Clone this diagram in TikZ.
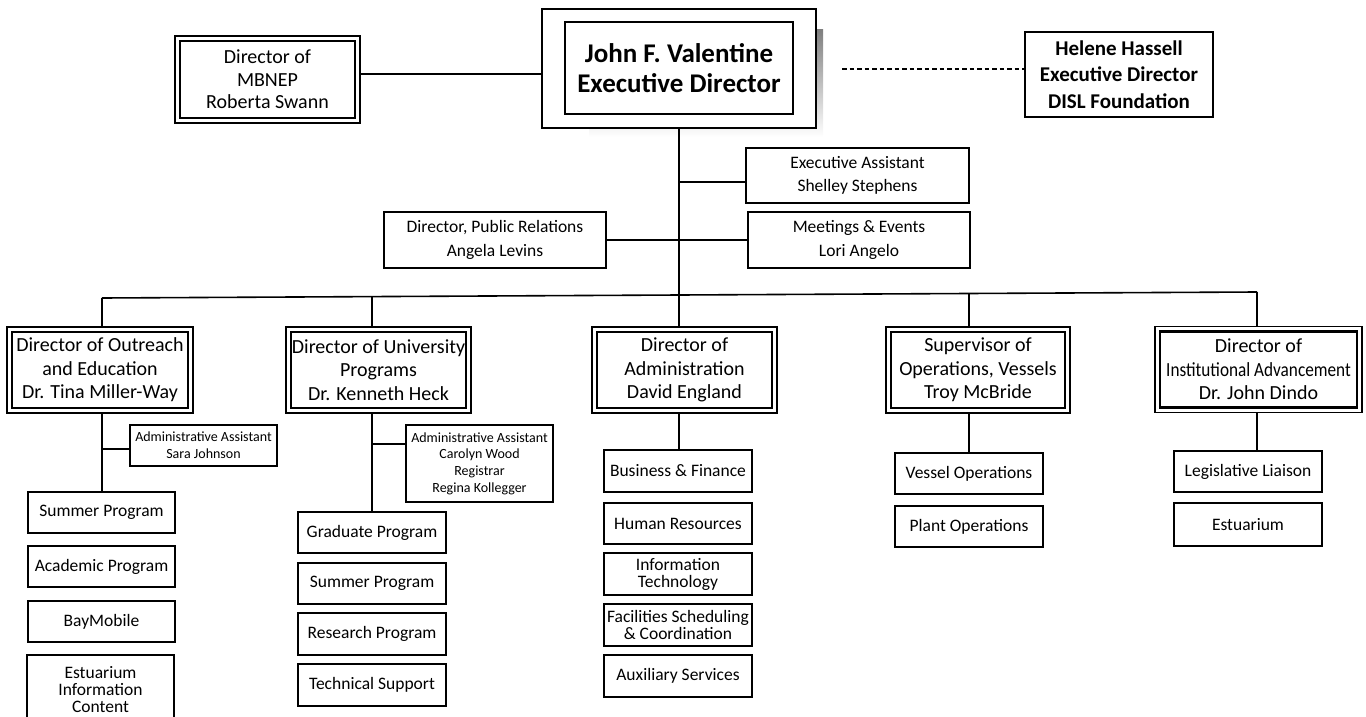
\documentclass[tikz,border=0pt]{standalone}
\usepackage{fontspec}
\setmainfont{Carlito}
\usepackage{graphicx}
\definecolor{shade}{RGB}{166,166,170}
\tikzset{
  conn/.style={line width=1.6pt},
  dotconn/.style={line width=2.4pt, dash pattern=on 4.5pt off 3pt},
  box/.style={draw, line width=1.5pt, fill=white, align=center, inner sep=0pt,
    minimum width=148pt, minimum height=41pt, font=\fontsize{17.5}{17}\selectfont},
  midbox/.style={draw, line width=1.5pt, fill=white, align=center, inner sep=0pt,
    minimum width=222pt, minimum height=56pt, font=\fontsize{17.5}{23.5}\selectfont},
  smallbox/.style={draw, line width=1.5pt, fill=white, align=center, inner sep=0pt,
    minimum width=147pt, font=\fontsize{14}{16.7}\selectfont},
  dirbox/.style={draw, line width=1.3pt, fill=white, align=center, inner sep=0pt,
    outer sep=0pt, minimum height=86pt, font=\fontsize{20}{23.5}\selectfont},
  innerline/.style={line width=2.3pt},
}
\begin{document}
\begin{tikzpicture}[x=1pt,y=-1pt]
\useasboundingbox (0,0) rectangle (1366,717);
\clip (0,0) rectangle (1366,717);

% top level
\fill[shade] (589,30) rectangle (823,137);
\node[draw, line width=1.3pt, fill=white, outer sep=0pt, minimum width=274pt, minimum height=119pt,
  align=center, font=\fontsize{27}{30}\selectfont\bfseries] (main) at (679,68.5)
  {John F. Valentine\\Executive Director};
\draw[line width=1.3pt] ([xshift=23pt,yshift=-13pt]main.north west) rectangle ([xshift=-23pt,yshift=14pt]main.south east);

\node[dirbox, minimum width=185pt, minimum height=87pt, font=\fontsize{20}{22.5}\selectfont] (mbnep) at (267.5,79.5)
  {Director of\\MBNEP\\Roberta Swann};

\node[draw, line width=1.5pt, fill=white, align=center, minimum width=188pt, minimum height=85pt,
  font=\fontsize{21}{26.5}\selectfont\bfseries] (helene) at (1119,74.5)
  {Helene Hassell\\Executive Director\\DISL Foundation};

\coordinate (y74) at (0,74);
\draw[conn] (mbnep.east |- y74) -- (main.west |- y74);
\coordinate (dots) at (842,69);
\draw[dotconn] (dots) -- (helene.west |- dots);

% staff
\node[midbox, minimum width=223pt, minimum height=55pt] (ea) at (857.5,175.5) {Executive Assistant\\Shelley Stephens};
\node[midbox] (me) at (859,240) {Meetings \& Events\\Lori Angelo};
\node[midbox] (pr) at (495,240) {Director, Public Relations\\Angela Levins};

% bus
\coordinate (b1) at (102,298);
\coordinate (b2) at (372,296.6);
\coordinate (b3) at (679,295);
\coordinate (b4) at (969,293.5);
\coordinate (b5) at (1257,292);
\draw[conn] (main.south) -- (b3);
\draw[conn] (b1) -- (b5);
\draw[conn] ([yshift=-6.5pt]ea.west -| b3) -- ([yshift=-6.5pt]ea.west);
\draw[conn] (pr.east) -- (me.west);

% directors
\node[dirbox, minimum width=186pt] (out) at (100,370) {Director of Outreach\\and Education\\Dr. Tina Miller-Way};
\node[dirbox, minimum width=185pt] (uni) at (378.5,370) {Director of University\\Programs\\Dr. Kenneth Heck};
\node[dirbox, minimum width=185pt] (adm) at (684.5,370) {Director of\\Administration\\David England};
\node[dirbox, minimum width=184pt] (ops) at (978,370) {Supervisor of\\Operations, Vessels\\Troy McBride};
\node[dirbox, minimum width=207pt] (ia) at (1258.5,369.5) {Director of\\\scalebox{0.86}[1]{Institutional Advancement}\\Dr. John Dindo};
\foreach \n in {out,uni,adm,ops,ia,mbnep}
  \draw[innerline] ([xshift=5pt,yshift=-5pt]\n.north west) rectangle ([xshift=-5pt,yshift=5pt]\n.south east);

\draw[conn] (b1) -- (b1 |- out.north);
\draw[conn] (b2) -- (b2 |- uni.north);
\draw[conn] (b3) -- (b3 |- adm.north);
\draw[conn] (b4) -- (b4 |- ops.north);
\draw[conn] (b5) -- (b5 |- ia.north);

% outreach column
\node[smallbox, minimum height=41pt] (aa1) at (203.5,445.5) {Administrative Assistant\\Sara Johnson};
\node[box, minimum width=147pt] (o1) at (101.5,512.5) {Summer Program};
\node[box, minimum width=147pt] (o2) at (101.5,566.5) {Academic Program};
\node[box, minimum width=147pt] (o3) at (101.5,621.5) {BayMobile};
\node[box, minimum width=147pt, minimum height=69pt] (o4) at (100.5,689.5) {Estuarium\\Information\\Content};
\draw[conn] (b1 |- out.south) -- (b1 |- o1.north);
\draw[conn] ([yshift=-3.5pt]aa1.west -| b1) -- ([yshift=-3.5pt]aa1.west);

% university column
\node[smallbox, minimum height=77pt] (aa2) at (479.5,463.5) {Administrative Assistant\\Carolyn Wood\\Registrar\\Regina Kollegger};
\node[box] (u1) at (372,532.5) {Graduate Program};
\node[box] (u2) at (372,583.5) {Summer Program};
\node[box, minimum height=42pt] (u3) at (372,634) {Research Program};
\node[box, minimum height=42pt] (u4) at (372,685) {Technical Support};
\draw[conn] (b2 |- uni.south) -- (b2 |- u1.north);
\draw[conn] ([yshift=19.5pt]aa2.west -| b2) -- ([yshift=19.5pt]aa2.west);

% administration column
\node[box, minimum height=42pt] (a1) at (678,471) {Business \& Finance};
\node[box] (a2) at (678,523.5) {Human Resources};
\node[box, minimum height=42pt] (a3) at (678,574) {Information\\Technology};
\node[box, minimum height=42pt] (a4) at (678,625) {Facilities Scheduling\\\& Coordination};
\node[box, minimum height=42pt] (a5) at (678,676) {Auxiliary Services};
\draw[conn] (b3 |- adm.south) -- (b3 |- a1.north);

% operations column
\node[box] (p1) at (969,473.5) {Vessel Operations};
\node[box] (p2) at (969,526.5) {Plant Operations};
\draw[conn] (b4 |- ops.south) -- (b4 |- p1.north);

% advancement column
\node[box] (i1) at (1248,471.5) {Legislative Liaison};
\node[box, minimum height=43pt] (i2) at (1248,524.5) {Estuarium};
\draw[conn] (b5 |- ia.south) -- (b5 |- i1.north);
\end{tikzpicture}
\end{document}
